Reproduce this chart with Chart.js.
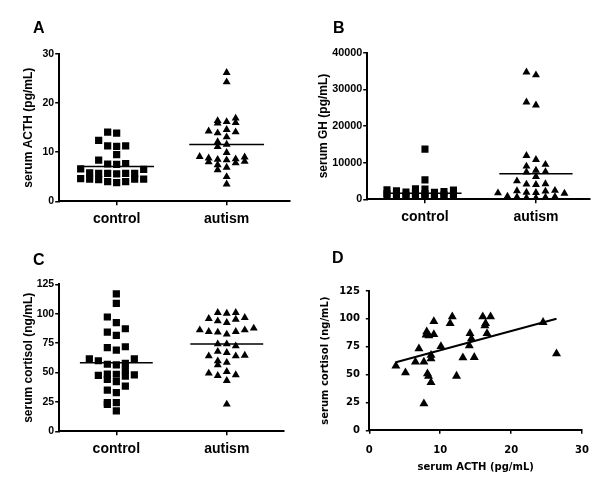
<!DOCTYPE html>
<html><head><meta charset="utf-8">
<script src="https://cdn.jsdelivr.net/npm/chart.js@4/dist/chart.umd.min.js"></script>
<style>
html,body{margin:0;padding:0;background:#fff;}
#wrap{position:relative;width:600px;height:478px;overflow:hidden;background:#fff;}
canvas{position:absolute;}
.lbl{position:absolute;font:bold 16px "Liberation Sans",Arial,sans-serif;line-height:16px;color:#000;}
</style></head><body>
<div id="wrap">
<canvas id="cA" width="300" height="239" style="left:0;top:0"></canvas>
<canvas id="cB" width="300" height="239" style="left:300px;top:0"></canvas>
<canvas id="cC" width="300" height="239" style="left:0;top:239px"></canvas>
<canvas id="cD" width="300" height="239" style="left:300px;top:239px"></canvas>
<div class="lbl" style="left:33px;top:20px">A</div>
<div class="lbl" style="left:333px;top:20px">B</div>
<div class="lbl" style="left:33px;top:252px">C</div>
<div class="lbl" style="left:332px;top:250px">D</div>
</div>
<script>
// ---------- data ----------
const groups = ['control', 'autism'];

// Panel A: serum ACTH (pg/mL)
const acthTicks = [0, 10, 20, 30];
const acthControl = [14.1, 13.9, 12.4, 11.3, 11.3, 11.2, 9.5, 8.4, 7.7, 7.6, 7.5, 6.6, 6.5, 5.8, 5.7, 5.7, 5.7, 5.6, 5.7, 4.6, 4.5, 4.5, 4.5, 4.4, 4.0, 4.0, 3.8];
const acthAutism = [26.2, 24.3, 16.9, 16.4, 16.2, 16.0, 15.9, 14.6, 14.3, 14.1, 13.9, 13.1, 12.1, 11.6, 11.1, 9.9, 9.1, 9.0, 8.8, 8.6, 8.5, 8.4, 8.1, 8.0, 7.8, 7.4, 6.9, 6.4, 5.0, 3.5];
const acthMeans = [7.1, 11.55];

// Panel B: serum GH (pg/mL)
const ghTicks = [0, 10000, 20000, 30000, 40000];
const ghControl = [13700, 5300, 2900, 2800, 2600, 2500, 2300, 2100, 2000, 1900, 1800, 1600, 1500, 1400, 1300, 1200, 1100, 1000, 900, 900, 800, 800, 700, 700, 600, 600, 500, 400];
const ghAutism = [34700, 33900, 26500, 25700, 11900, 10800, 9500, 9000, 7900, 7500, 7400, 6200, 5000, 4200, 4100, 4000, 2400, 2300, 2200, 1900, 1800, 1700, 1600, 800, 700, 600, 500, 400, 300];
const ghMeans = [1630, 6980];

// Panel C: serum cortisol (ng/mL)
const cortTicks = [0, 25, 50, 75, 100, 125];
const cortControl = [116.8, 108.8, 97.2, 92.4, 87.2, 84.4, 81.6, 71.9, 71.1, 69.1, 61.7, 61.7, 60.0, 57.8, 57.0, 56.4, 52.1, 48.7, 48.5, 47.9, 47.6, 47.0, 44.2, 42.2, 38.5, 35.1, 32.8, 24.3, 24.3, 22.9, 17.3];
const cortAutism = [100.9, 100.9, 100.3, 96.6, 95.8, 95.2, 93.8, 92.4, 87.6, 86.1, 86.1, 84.7, 84.7, 84.2, 82.5, 74.2, 74.2, 72.5, 67.8, 66.9, 64.6, 64.0, 64.0, 59.8, 58.5, 56.4, 50.7, 49.3, 47.9, 47.3, 43.1, 23.0];
const cortMeans = [58.3, 74.2];

// Panel D: autism ACTH vs cortisol
const corrXTicks = [0, 10, 20, 30];
const corrYTicks = [0, 25, 50, 75, 100, 125];
const corrActh = [3.75, 5.1, 6.5, 7.0, 7.7, 7.7, 8.1, 8.0, 8.4, 9.1, 9.1, 8.2, 8.35, 8.7, 8.7, 8.7, 10.1, 11.4, 11.7, 12.3, 13.2, 14.1, 14.2, 14.4, 14.8, 16.0, 16.3, 16.4, 16.6, 17.1, 24.5, 26.4];
const corrCortisol = [57.7, 51.7, 61.3, 73.2, 61.3, 23.9, 88.5, 85.5, 85.0, 97.7, 86.1, 50.8, 48.7, 43.0, 64.2, 67.5, 75.3, 95.9, 101.9, 48.7, 65.1, 75.9, 87.0, 82.2, 65.5, 101.9, 93.8, 95.9, 87.0, 101.9, 96.9, 68.7];
const fitSlope = 1.73, fitIntercept = 54.5;

// ---------- drawing ----------
const FONT = '"Liberation Sans", Arial, sans-serif';
const FONT_D = '"DejaVu Sans", Verdana, sans-serif';
const BLACK = '#000';

// column-scatter layout: bin values into rows, spread each row horizontally
function spread(values, center, slot, bin, maxRow) {
  const s = values.slice().sort((a, b) => a - b);
  const pts = [];
  let i = 0;
  while (i < s.length) {
    const start = s[i];
    const row = [];
    while (i < s.length && s[i] - start < bin && row.length < maxRow) { row.push(s[i]); i++; }
    row.forEach((v, k) => {
      const pos = k === 0 ? 0 : (k % 2 ? -Math.ceil(k / 2) : k / 2);
      pts.push({x: center + pos * slot, y: v});
    });
  }
  return pts;
}

function gridOpts(len) {
  return {drawOnChartArea: false, drawTicks: true, tickLength: len, color: BLACK, lineWidth: 1.5};
}

function columnChart(id, cfg) {
  const canvas = document.getElementById(id);
  const W = canvas.width, H = canvas.height;
  const lineDs = (i) => ({
    type: 'line', showLine: true, data: [{x: i + 1 - cfg.half, y: cfg.means[i]}, {x: i + 1 + cfg.half, y: cfg.means[i]}],
    borderColor: BLACK, borderWidth: 1.5, pointRadius: 0, fill: false
  });
  const ch = new Chart(canvas, {
    type: 'scatter',
    data: {datasets: [
      {data: [], pointStyle: 'rect', pointRadius: cfg.sqR, backgroundColor: BLACK, borderColor: BLACK, borderWidth: 0},
      {data: [], pointStyle: 'triangle', pointRadius: cfg.triR, backgroundColor: BLACK, borderColor: BLACK, borderWidth: 0},
      lineDs(0), lineDs(1)
    ]},
    options: {
      responsive: false, animation: false, events: [],
      plugins: {legend: {display: false}, tooltip: {enabled: false}},
      layout: {padding: {left: 0, top: cfg.top, right: W - cfg.right, bottom: 0}},
      scales: {
        x: {
          type: 'linear', min: cfg.xmin, max: cfg.xmax,
          afterBuildTicks: s => { s.ticks = groups.map((g, i) => ({value: i + 1})); },
          afterFit: s => { s.height = H - cfg.bottom; },
          ticks: {callback: v => groups[v - 1], color: BLACK, font: {family: FONT, size: 14, weight: 'bold'}, padding: 5.6, maxRotation: 0, autoSkip: false},
          grid: gridOpts(4),
          border: {display: true, color: BLACK, width: 2}
        },
        y: {
          min: cfg.ticks[0], max: cfg.ticks[cfg.ticks.length - 1],
          afterBuildTicks: s => { s.ticks = cfg.ticks.map(v => ({value: v})); },
          afterFit: s => { s.width = cfg.left; },
          ticks: {callback: v => String(v), color: BLACK, font: {family: FONT, size: cfg.tickSize, weight: 'bold'}, padding: 1},
          title: {display: true, text: cfg.title, color: BLACK, font: {family: FONT, size: 12, weight: 'bold'}, padding: {top: cfg.titlePad, bottom: 0}},
          grid: gridOpts(3.5),
          border: {display: true, color: BLACK, width: 2}
        }
      }
    }
  });
  const xs = ch.scales.x, ys = ch.scales.y;
  const pxX = xs.width / (xs.max - xs.min), pxY = ys.height / (ys.max - ys.min);
  ch.data.datasets[0].data = spread(cfg.data[0], 1, cfg.slotPx / pxX, cfg.binPx / pxY, cfg.maxRow);
  ch.data.datasets[1].data = spread(cfg.data[1], 2, cfg.slotPx / pxX, cfg.binPx / pxY, cfg.maxRow);
  ch.update();
  return ch;
}

columnChart('cA', {
  data: [acthControl, acthAutism], means: acthMeans, ticks: acthTicks, title: 'serum ACTH (pg/mL)',
  left: 58.7, right: 290, top: 54, bottom: 201.3, xmin: 0.473, xmax: 2.576, titlePad: 21, tickSize: 10.5,
  sqR: 5.1, triR: 4.6, half: 0.34, slotPx: 9, binPx: 7.3, maxRow: 8
});
columnChart('cB', {
  data: [ghControl, ghAutism], means: ghMeans, ticks: ghTicks, title: 'serum GH (pg/mL)',
  left: 66.7, right: 290, top: 52.7, bottom: 199.3, xmin: 0.475, xmax: 2.487, titlePad: 16, tickSize: 10.8,
  sqR: 5.0, triR: 4.6, half: 0.33, slotPx: 9.5, binPx: 6, maxRow: 8
});
columnChart('cC', {
  data: [cortControl, cortAutism], means: cortMeans, ticks: cortTicks, title: 'serum cortisol (ng/mL)',
  left: 58.7, right: 283.3, top: 45.3, bottom: 192.3, xmin: 0.478, xmax: 2.512, titlePad: 21, tickSize: 10.5,
  sqR: 5.1, triR: 4.6, half: 0.33, slotPx: 9, binPx: 7.3, maxRow: 8
});

// Panel D
(function () {
  const canvas = document.getElementById('cD');
  const W = canvas.width, H = canvas.height;
  const pts = corrActh.map((x, i) => ({x: x, y: corrCortisol[i]}));
  const x0 = Math.min(...corrActh), x1 = Math.max(...corrActh);
  new Chart(canvas, {
    type: 'scatter',
    data: {datasets: [
      {data: pts, pointStyle: 'triangle', pointRadius: 5.2, backgroundColor: BLACK, borderColor: BLACK, borderWidth: 0},
      {type: 'line', showLine: true, data: [{x: x0, y: fitIntercept + fitSlope * x0}, {x: x1, y: fitIntercept + fitSlope * x1}],
       borderColor: BLACK, borderWidth: 2, pointRadius: 0, fill: false}
    ]},
    options: {
      responsive: false, animation: false, events: [],
      plugins: {legend: {display: false}, tooltip: {enabled: false}},
      layout: {padding: {left: 0, top: 52, right: W - 288.7, bottom: 0}},
      scales: {
        x: {
          type: 'linear', min: corrXTicks[0], max: corrXTicks[corrXTicks.length - 1],
          afterBuildTicks: s => { s.ticks = corrXTicks.map(v => ({value: v})); },
          afterFit: s => { s.height = H - 191.3; },
          ticks: {callback: v => String(v), color: BLACK, font: {family: FONT_D, size: 10, weight: 'bold'}, padding: 11, maxRotation: 0, autoSkip: false},
          title: {display: true, text: 'serum ACTH (pg/mL)', color: BLACK, font: {family: FONT_D, size: 10, weight: 'bold'}, padding: {top: 0, bottom: 5}},
          grid: gridOpts(3.5),
          border: {display: true, color: BLACK, width: 2}
        },
        y: {
          min: corrYTicks[0], max: corrYTicks[corrYTicks.length - 1],
          afterBuildTicks: s => { s.ticks = corrYTicks.map(v => ({value: v})); },
          afterFit: s => { s.width = 69.3; },
          ticks: {callback: v => String(v), color: BLACK, font: {family: FONT_D, size: 10, weight: 'bold'}, padding: 5.8},
          title: {display: true, text: 'serum cortisol (ng/mL)', color: BLACK, font: {family: FONT_D, size: 10, weight: 'bold'}, padding: {top: 19, bottom: 0}},
          grid: gridOpts(3.5),
          border: {display: true, color: BLACK, width: 2}
        }
      }
    }
  });
})();
</script>
</body></html>
